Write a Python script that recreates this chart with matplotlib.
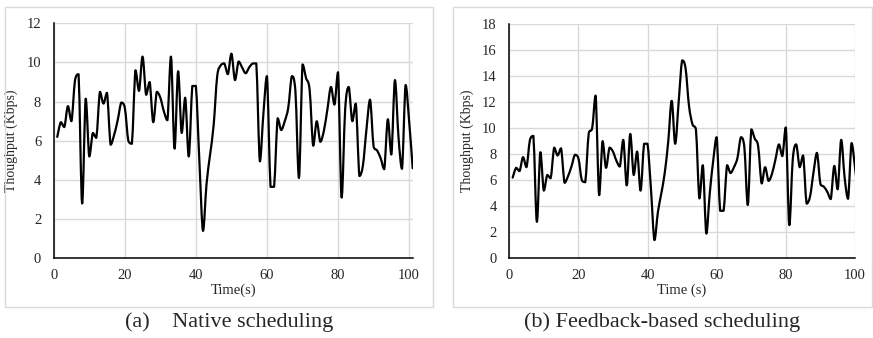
import matplotlib
matplotlib.use("Agg")
import matplotlib.pyplot as plt
from matplotlib.path import Path
from matplotlib.patches import PathPatch, Rectangle

# =============================================
# DATA
# =============================================
time_a = list(range(1, 102))
thr_a = [6.2, 6.95, 6.7, 7.77, 7.0, 9.1, 9.4, 2.8, 8.15, 5.2,
         6.4, 6.15, 8.5, 7.9, 8.45, 5.8, 6.3, 7.05, 7.95, 7.7,
         6.0, 5.85, 9.6, 8.55, 10.3, 8.35, 9.0, 6.95, 8.5, 8.2,
         7.5, 7.05, 10.3, 5.6, 9.55, 6.4, 8.2, 5.2, 8.8, 8.8,
         4.9, 1.4, 3.8, 5.3, 6.8, 9.3, 9.85, 9.95, 9.4, 10.45,
         9.1, 10.05, 9.75, 9.45, 9.75, 9.95, 9.95, 4.95, 7.4, 9.3,
         3.65, 3.65, 7.15, 6.55, 7.0, 7.7, 9.3, 8.55, 4.1, 9.9,
         9.2, 8.6, 5.75, 7.0, 5.95, 6.5, 7.6, 8.75, 7.85, 9.5,
         3.1, 7.6, 8.75, 7.0, 7.9, 4.2, 4.75, 6.6, 8.1, 5.7,
         5.5, 5.1, 4.55, 7.1, 5.3, 9.1, 6.2, 4.57, 8.85, 7.0,
         4.6]

time_b = list(range(1, 102))
thr_b = [6.2, 6.95, 6.7, 7.77, 7.0, 9.1, 9.4, 2.8, 8.15, 5.2,
         6.4, 6.15, 8.5, 7.9, 8.45, 5.8, 6.3, 7.05, 7.95, 7.7,
         6.0, 5.85, 9.6, 10.0, 12.5, 4.85, 9.0, 6.95, 8.5, 8.2,
         7.5, 7.05, 9.1, 5.6, 9.55, 6.4, 8.2, 5.2, 8.8, 8.8,
         5.3, 1.4, 3.55, 5.0, 6.6, 9.0, 12.1, 8.8, 12.0, 15.2,
         14.6, 11.7, 10.3, 9.9, 4.6, 7.15, 1.9, 5.0, 7.5, 9.3,
         3.65, 3.65, 7.15, 6.55, 7.0, 7.7, 9.3, 8.55, 4.1, 9.9,
         9.2, 8.6, 5.75, 7.0, 5.95, 6.5, 7.6, 8.75, 7.85, 10.05,
         2.55, 7.6, 8.75, 7.0, 7.9, 4.2, 4.75, 6.6, 8.1, 5.7,
         5.5, 5.1, 4.55, 7.1, 5.3, 9.1, 6.2, 4.57, 8.85, 7.0,
         4.6]

xticks = [0, 20, 40, 60, 80, 100]
yticks_a = [0, 2, 4, 6, 8, 10, 12]
yticks_b = [0, 2, 4, 6, 8, 10, 12, 14, 16, 18]

# =============================================
# STYLE
# =============================================
plt.rcParams['font.family'] = ['Liberation Serif', 'DejaVu Serif']
TXT = '#262626'
GRID = '#d9d9d9'
W, H = 873, 338


def clamp(v, a, b):
    return min(max(v, min(a, b)), max(a, b))


def smooth_line(ax, xs, ys, lw=1.6):
    # smoothed line like Excel: cubic Bezier through every data point,
    # control points kept between neighbours so peaks don't overshoot
    n = len(xs)
    verts = [(xs[0], ys[0])]
    codes = [Path.MOVETO]
    for i in range(n - 1):
        i0 = max(i - 1, 0)
        i3 = min(i + 2, n - 1)
        c1y = clamp(ys[i] + (ys[i + 1] - ys[i0]) / 6, ys[i], ys[i + 1])
        c2y = clamp(ys[i + 1] - (ys[i3] - ys[i]) / 6, ys[i], ys[i + 1])
        c1 = (xs[i] + (xs[i + 1] - xs[i0]) / 6, c1y)
        c2 = (xs[i + 1] - (xs[i3] - xs[i]) / 6, c2y)
        verts += [c1, c2, (xs[i + 1], ys[i + 1])]
        codes += [Path.CURVE4] * 3
    patch = PathPatch(Path(verts, codes), facecolor='none', edgecolor='black',
                      lw=lw, joinstyle='round', capstyle='round', zorder=3)
    ax.add_patch(patch)


def setup(ax, xmax, yticks, xlabel):
    ax.set_xlim(0, xmax)
    ax.set_ylim(yticks[0], yticks[-1])
    ax.set_xticks(xticks)
    ax.set_yticks(yticks)
    ax.set_axisbelow(True)
    ax.grid(True, color=GRID, lw=1.0)
    for s in ['top', 'right']:
        ax.spines[s].set_visible(False)
    for s in ['left', 'bottom']:
        ax.spines[s].set_color('black')
        ax.spines[s].set_linewidth(1.1)
    ax.tick_params(length=0, labelsize=10.5, labelcolor=TXT)
    ax.tick_params(axis='y', pad=9)
    ax.tick_params(axis='x', pad=8)
    ax.set_xlabel(xlabel, fontsize=10.5, color=TXT, labelpad=1)
    ax.set_ylabel('Thoughput (Kbps)', fontsize=10, color=TXT, labelpad=6)


fig = plt.figure(figsize=(W / 100, H / 100), dpi=100)

# chart frames
for x0, x1 in [(5, 433), (452.7, 872.3)]:
    fig.patches.append(Rectangle((x0 / W, 1 - 307 / H), (x1 - x0) / W, 300 / H,
                                 transform=fig.transFigure, fill=False,
                                 edgecolor=GRID, lw=1.0))

ax1 = fig.add_axes([53.7 / W, 1 - 258.3 / H, 359 / W, 235 / H])
setup(ax1, 101, yticks_a, 'Time(s)')
smooth_line(ax1, time_a, thr_a)

ax2 = fig.add_axes([509.2 / W, 1 - 258.3 / H, 345.8 / W, 234.3 / H])
setup(ax2, 100, yticks_b, 'Time (s)')
smooth_line(ax2, time_b, thr_b)

fig.text(229 / W, 1 - 322 / H, '(a)    Native scheduling', fontsize=16,
         color=TXT, ha='center', va='center')
fig.text(662 / W, 1 - 322 / H, '(b) Feedback-based scheduling', fontsize=16,
         color=TXT, ha='center', va='center')

fig.savefig('out.png', dpi=100)
